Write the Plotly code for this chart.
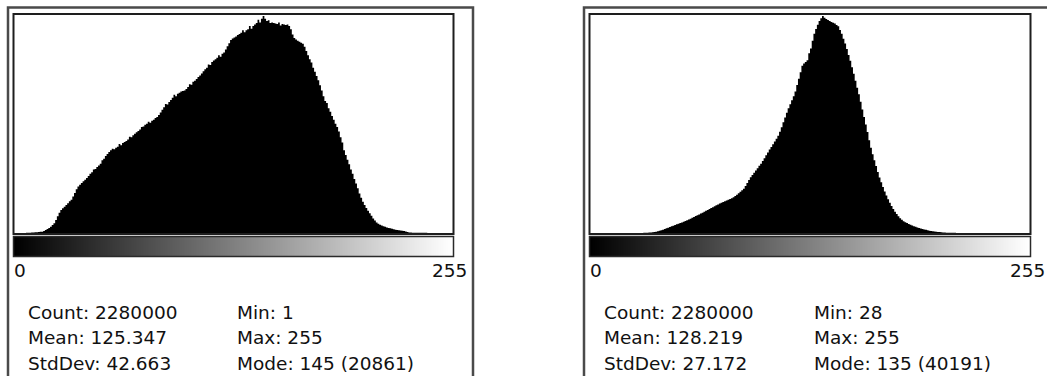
import plotly.graph_objects as go

W, H = 1047, 376

bins = list(range(256))

left_counts = [
    0, 1, 2, 3, 5, 8, 12, 17, 24, 32, 42, 55, 68, 80, 95, 110,
    125, 200, 290, 380, 480, 600, 760, 930, 1250, 1600, 1950, 2200, 2380, 2520, 2700, 2870,
    3050, 3200, 3500, 3850, 4200, 4480, 4650, 4800, 4980, 5120, 5300, 5480, 5700, 5850, 6100, 6150,
    6350, 6500, 6650, 7000, 7150, 7400, 7600, 7800, 7950, 8100, 8050, 8200, 8300, 8550, 8450, 8650,
    8750, 8850, 9000, 9250, 9200, 9400, 9550, 9700, 9800, 9950, 10200, 10250, 10400, 10500, 10700, 10600,
    10800, 10900, 11050, 11150, 11350, 11600, 11850, 12100, 12400, 12350, 12600, 12800, 13000, 13300, 13150, 13400,
    13500, 13600, 13650, 13700, 13850, 14050, 14300, 14250, 14550, 14650, 14800, 15000, 15150, 15350, 15550, 15750,
    15900, 16200, 16150, 16450, 16600, 16700, 16850, 17100, 16950, 17250, 17350, 17650, 17950, 18250, 18550, 18700,
    18800, 18900, 19050, 19150, 19250, 19500, 19300, 19500, 19600, 19900, 19650, 19900, 20050, 20200, 20500, 20250,
    20600, 20861, 20600, 20400, 20450, 20200, 20250, 20200, 20150, 20100, 20250, 19950, 20100, 20050, 20000, 20050,
    19900, 19600, 19100, 18750, 18600, 18500, 18400, 18300, 18200, 17900, 17500, 17100, 16700, 16400, 15900, 15500,
    15100, 14700, 14200, 13700, 13150, 12700, 12500, 12000, 11650, 11250, 10900, 10500, 10200, 9750, 9200, 8700,
    7950, 7500, 7050, 6600, 6100, 5700, 5200, 4750, 4300, 3800, 3400, 3000, 2700, 2400, 2150, 1900,
    1650, 1400, 1200, 1000, 900, 800, 720, 650, 590, 540, 490, 450, 400, 360, 320, 290,
    260, 230, 210, 190, 140, 90, 60, 40, 32, 28, 25, 22, 20, 18, 16, 14,
    13, 12, 11, 10, 9, 8, 7, 6, 6, 5, 5, 4, 4, 3, 3, 12,
]

right_counts = [
    0, 0, 0, 0, 0, 0, 0, 0, 0, 0, 0, 0, 0, 0, 0, 0,
    0, 0, 0, 0, 0, 0, 0, 0, 0, 0, 0, 0, 5, 10, 20, 30,
    45, 60, 80, 100, 130, 170, 250, 330, 420, 520, 620, 740, 860, 980, 1100, 1230,
    1360, 1480, 1600, 1720, 1840, 1960, 2080, 2210, 2340, 2500, 2660, 2810, 2970, 3130, 3290, 3440,
    3600, 3760, 3920, 4100, 4270, 4440, 4610, 4780, 4950, 5120, 5290, 5480, 5620, 5760, 5900, 6040,
    6180, 6320, 6460, 6620, 6850, 7100, 7380, 7660, 7920, 8190, 8700, 9250, 9800, 10330, 10750, 11180,
    11600, 12000, 12450, 12850, 13350, 13870, 14400, 14920, 15450, 15950, 16450, 16950, 17450, 18000, 18750, 19600,
    20500, 21400, 22300, 23100, 23850, 24600, 25350, 26200, 27400, 28600, 29800, 31000, 31400, 31700, 32000, 33300,
    34200, 35600, 36900, 37800, 38600, 39300, 39800, 40191, 39900, 39650, 39450, 39300, 39100, 38950, 38800, 38550,
    38300, 37600, 36900, 36000, 35100, 34100, 33000, 31900, 30700, 29500, 28200, 26900, 25700, 24300, 22900, 21500,
    20100, 18700, 17200, 15800, 14600, 13500, 12400, 11300, 10300, 9400, 8500, 7700, 6950, 6250, 5600, 5000,
    4450, 3950, 3500, 3100, 2750, 2450, 2200, 2000, 1830, 1680, 1540, 1400, 1260, 1140, 1030, 930,
    840, 750, 660, 580, 500, 440, 380, 330, 280, 240, 200, 165, 130, 100, 75, 60,
    50, 42, 35, 30, 25, 21, 18, 15, 13, 11, 10, 9, 8, 7, 6, 5,
    5, 4, 4, 3, 3, 3, 2, 2, 2, 2, 2, 1, 1, 1, 1, 1,
    1, 1, 1, 1, 1, 1, 1, 1, 1, 1, 1, 1, 1, 1, 1, 5,
]

tick_labels = ["0", "255"]

left_stats_col1 = ["Count: 2280000", "Mean: 125.347", "StdDev: 42.663"]
left_stats_col2 = ["Min: 1", "Max: 255", "Mode: 145 (20861)"]
right_stats_col1 = ["Count: 2280000", "Mean: 128.219", "StdDev: 27.172"]
right_stats_col2 = ["Min: 28", "Max: 255", "Mode: 135 (40191)"]


def fx(px):
    return px / W


def fy(py):
    return 1 - py / H


panels = [
    dict(counts=left_counts, bx0=14, bx1=453, fx0=8, fx1=473,
         c1x=26, c2x=235, lab255=469,
         col1=left_stats_col1, col2=left_stats_col2),
    dict(counts=right_counts, bx0=590, bx1=1030, fx0=584, fx1=1075,
         c1x=602, c2x=812, lab255=1047,
         col1=right_stats_col1, col2=right_stats_col2),
]

BOX_TOP, BOX_BOT = 15, 233
GR_TOP, GR_BOT = 236.5, 256.5
ROWS = [312, 337.5, 363]
FONT = dict(family="DejaVu Sans", size=18.5, color="#111111")

fig = go.Figure()
shapes = []
annotations = []
layout_axes = {}

for i, p in enumerate(panels):
    hx = 2 * i + 1
    gx = 2 * i + 2
    hxs = "" if hx == 1 else str(hx)
    gxs = str(gx)

    fig.add_trace(go.Scatter(
        x=bins, y=p["counts"], mode="lines",
        line=dict(width=0, shape="hvh", color="black"),
        fill="tozeroy", fillcolor="black",
        xaxis="x" + hxs, yaxis="y" + hxs, hoverinfo="skip", showlegend=False,
    ))
    fig.add_trace(go.Heatmap(
        x=bins, y=[0], z=[bins], zmin=0, zmax=255,
        colorscale=[[0, "black"], [1, "white"]], showscale=False,
        xaxis="x" + gxs, yaxis="y" + gxs, hoverinfo="skip",
    ))

    dom_x = [fx(p["bx0"]), fx(p["bx1"])]
    layout_axes["xaxis" + hxs] = dict(domain=dom_x, range=[-0.5, 255.5], visible=False,
                                      anchor="y" + hxs, fixedrange=True)
    layout_axes["yaxis" + hxs] = dict(domain=[fy(BOX_BOT), fy(BOX_TOP)],
                                      range=[0, max(p["counts"]) * 1.005], visible=False,
                                      anchor="x" + hxs, fixedrange=True)
    layout_axes["xaxis" + gxs] = dict(domain=dom_x, range=[-0.5, 255.5], visible=False,
                                      anchor="y" + gxs, fixedrange=True)
    layout_axes["yaxis" + gxs] = dict(domain=[fy(GR_BOT), fy(GR_TOP)], range=[-0.5, 0.5],
                                      visible=False, anchor="x" + gxs, fixedrange=True)

    shapes.append(dict(type="rect", xref="paper", yref="paper",
                       x0=fx(p["bx0"] - 0.5), x1=fx(p["bx1"] + 0.5),
                       y0=fy(BOX_BOT + 1), y1=fy(BOX_TOP - 1),
                       line=dict(color="#1e1e1e", width=2)))
    shapes.append(dict(type="rect", xref="paper", yref="paper",
                       x0=fx(p["bx0"] - 0.5), x1=fx(p["bx1"] + 0.5),
                       y0=fy(GR_BOT), y1=fy(GR_TOP),
                       line=dict(color="#2a2a2a", width=1.5)))
    shapes.append(dict(type="rect", xref="paper", yref="paper",
                       x0=fx(p["fx0"]), x1=fx(p["fx1"]),
                       y0=fy(395), y1=fy(7.5),
                       line=dict(color="#4a4a4a", width=2.5)))

    annotations.append(dict(x=fx(p["bx0"] - 2), y=fy(270), xref="paper", yref="paper",
                            text=tick_labels[0], showarrow=False, xanchor="left",
                            yanchor="middle", font=FONT))
    annotations.append(dict(x=fx(p["lab255"]), y=fy(270), xref="paper", yref="paper",
                            text=tick_labels[1], showarrow=False, xanchor="right",
                            yanchor="middle", font=FONT))
    for r, (t1, t2) in enumerate(zip(p["col1"], p["col2"])):
        annotations.append(dict(x=fx(p["c1x"]), y=fy(ROWS[r]), xref="paper", yref="paper",
                                text=t1, showarrow=False, xanchor="left", yanchor="middle",
                                font=FONT))
        annotations.append(dict(x=fx(p["c2x"]), y=fy(ROWS[r]), xref="paper", yref="paper",
                                text=t2, showarrow=False, xanchor="left", yanchor="middle",
                                font=FONT))

fig.update_layout(
    width=W, height=H,
    margin=dict(l=0, r=0, t=0, b=0, pad=0),
    paper_bgcolor="white", plot_bgcolor="white",
    showlegend=False,
    shapes=shapes, annotations=annotations,
    **layout_axes,
)

fig.write_html(
    "out.html",
    config={"displayModeBar": False},
    post_script="document.body.style.margin='0';document.body.style.overflow='hidden';",
)
